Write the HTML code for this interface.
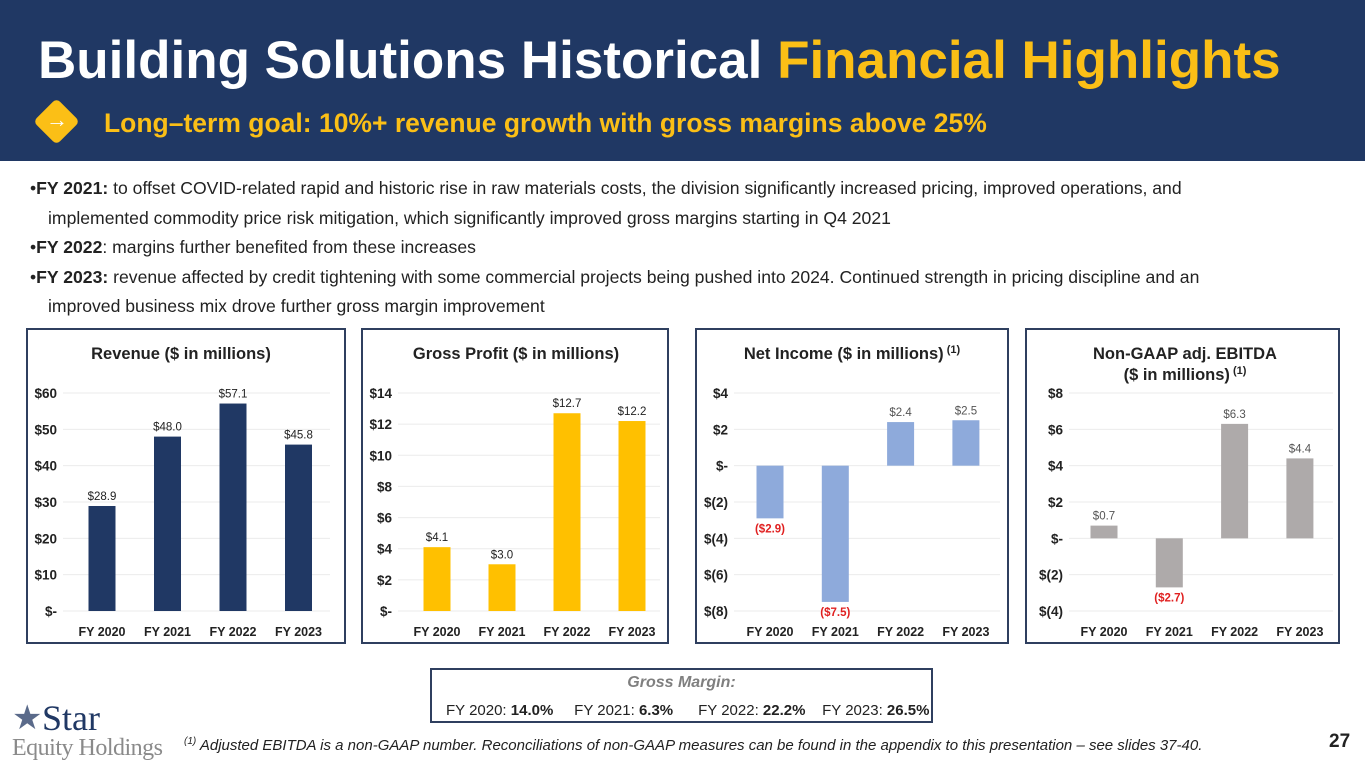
<!DOCTYPE html>
<html><head><meta charset="utf-8"><style>
body{margin:0;width:1365px;height:768px;position:relative;overflow:hidden;background:#fff;font-family:"Liberation Sans",sans-serif}
.hdr{position:absolute;left:0;top:0;width:1365px;height:161px;background:#203864}
.title{position:absolute;left:38px;top:30px;font-size:53px;font-weight:bold;color:#fff;white-space:nowrap}
.title span{color:#fbbf16}
.sub{position:absolute;left:104px;top:108px;font-size:26.5px;font-weight:bold;color:#fbbf16;white-space:nowrap}
.diamond{position:absolute;left:40px;top:105px;width:33px;height:33px;background:#fbbf16;transform:rotate(45deg);border-radius:5px}
.arrow{position:absolute;left:46px;top:107px;width:22px;color:#fff;font-size:22px;text-align:center}
.bul{position:absolute;left:30px;top:174px;font-size:17.6px;color:#222;line-height:29.6px;white-space:nowrap}
.bul b{font-weight:bold}
.panel{position:absolute;top:328px;height:316px;border:2px solid #2f3f5f;box-sizing:border-box}
.gm{position:absolute;left:430px;top:668px;width:503px;height:55px;border:2px solid #2f3f5f;box-sizing:border-box;font-size:15px;color:#222}
.foot{position:absolute;left:184px;top:736px;font-size:15px;font-style:italic;color:#222;white-space:nowrap}
</style></head><body>
<div class="hdr"></div>
<div class="title">Building Solutions Historical <span>Financial Highlights</span></div>
<div class="diamond"></div>
<div class="arrow">→</div>
<div class="sub">Long–term goal: 10%+ revenue growth with gross margins above 25%</div>

<div class="bul">
•<b>FY 2021:</b> to offset COVID-related rapid and historic rise in raw materials costs, the division significantly increased pricing, improved operations, and<br>
<span style="padding-left:18px">implemented commodity price risk mitigation, which significantly improved gross margins starting in Q4 2021</span><br>
•<b>FY 2022</b>: margins further benefited from these increases<br>
•<b>FY 2023:</b> revenue affected by credit tightening with some commercial projects being pushed into 2024. Continued strength in pricing discipline and an<br>
<span style="padding-left:18px">improved business mix drove further gross margin improvement</span>
</div>

<div class="panel" style="left:26px;width:320px"></div>
<div class="panel" style="left:361px;width:308px"></div>
<div class="panel" style="left:695px;width:314px"></div>
<div class="panel" style="left:1025px;width:315px"></div>

<svg id="charts" width="1365" height="768" style="position:absolute;left:0;top:0"></svg>

<div class="gm">
<div style="text-align:center;font-weight:bold;font-style:italic;color:#7f7f7f;font-size:16px;margin-top:4px">Gross Margin:</div>
<div style="position:absolute;left:14px;top:32px;white-space:nowrap">FY 2020: <b>14.0%</b>&nbsp;&nbsp;&nbsp;&nbsp;&nbsp;FY 2021: <b>6.3%</b>&nbsp;&nbsp;&nbsp;&nbsp;&nbsp;&nbsp;FY 2022: <b>22.2%</b>&nbsp;&nbsp;&nbsp;&nbsp;FY 2023: <b>26.5%</b></div>
</div>

<div style="position:absolute;left:12px;top:702px;font-family:'Liberation Serif',serif">
<span style="font-size:34px;color:#5a6a8a;position:absolute;left:0;top:-4px">★</span>
<span style="font-size:36px;color:#203864;position:absolute;left:30px;top:-5px">Star</span>
<span style="font-size:24px;color:#8a8a8a;position:absolute;left:0;top:33px;white-space:nowrap;letter-spacing:-0.5px">Equity Holdings</span>
</div>
<div class="foot"><sup style="font-size:10px">(1)</sup> Adjusted EBITDA is a non-GAAP number. Reconciliations of non-GAAP measures can be found in the appendix to this presentation – see slides 37-40.</div>
<div style="position:absolute;left:1329px;top:731px;font-size:19px;font-weight:bold;color:#222">27</div>

<script>
const categories=["FY 2020","FY 2021","FY 2022","FY 2023"];
const revenueValues=[28.9,48.0,57.1,45.8];
const revenueLabels=["$28.9","$48.0","$57.1","$45.8"];
const revenueTicks=[0,10,20,30,40,50,60];
const revenueTickLabels=["$-","$10","$20","$30","$40","$50","$60"];
const gpValues=[4.1,3.0,12.7,12.2];
const gpLabels=["$4.1","$3.0","$12.7","$12.2"];
const gpTicks=[0,2,4,6,8,10,12,14];
const gpTickLabels=["$-","$2","$4","$6","$8","$10","$12","$14"];
const niValues=[-2.9,-7.5,2.4,2.5];
const niLabels=["($2.9)","($7.5)","$2.4","$2.5"];
const niTicks=[-8,-6,-4,-2,0,2,4];
const niTickLabels=["$(8)","$(6)","$(4)","$(2)","$-","$2","$4"];
const ebValues=[0.7,-2.7,6.3,4.4];
const ebLabels=["$0.7","($2.7)","$6.3","$4.4"];
const ebTicks=[-4,-2,0,2,4,6,8];
const ebTickLabels=["$(4)","$(2)","$-","$2","$4","$6","$8"];

const svg=document.getElementById('charts');
const NS="http://www.w3.org/2000/svg";
function mk(tag,attrs,parent){const e=document.createElementNS(NS,tag);for(const k in attrs)e.setAttribute(k,attrs[k]);(parent||svg).appendChild(e);return e;}
function txt(s,attrs,parent){const e=mk('text',attrs,parent);e.textContent=s;return e;}

function chart(cfg){
  const g=mk('g',{});
  
  
  const min=cfg.ticks[0],max=cfg.ticks[cfg.ticks.length-1];
  const y=v=>611-(v-min)/(max-min)*218;
  const x=i=>cfg.x0+i*cfg.step;
  cfg.ticks.forEach((t,i)=>{
    const l=mk('line',{x1:cfg.axisX+6,x2:cfg.gridEnd,y1:y(t),y2:y(t),stroke:'#ebebeb','stroke-width':1},g);
    
    
    const tl=txt(cfg.tickLabels[i],{x:cfg.axisX,y:y(t)+5,'text-anchor':'end','font-size':13.5,'font-weight':'bold',fill:'#222'},g);
    
    
  });
  cfg.values.forEach((v,i)=>{
    const top=y(Math.max(v,0)),bot=y(Math.min(v,0));
    const r=mk('rect',{x:x(i)-13.5,y:top,width:27,height:bot-top,fill:cfg.color},g);
    
    
    const neg=v<0;
    const ly=neg?bot+14:top-6;
    const lt=txt(cfg.labels[i],{x:x(i),y:ly,'text-anchor':'middle','font-size':11.5,'font-weight':neg?'bold':'normal',fill:neg?'#e02020':(cfg.labelColor||'#333')},g);
    
    
    const ct=txt(categories[i],{x:x(i),y:636,'text-anchor':'middle','font-size':12.5,'font-weight':'bold',fill:'#222'},g);
    
    
  });
  cfg.title.forEach((t,i)=>{
    const tt=txt(t,{x:cfg.titleX,y:359+i*21,'text-anchor':'middle','font-size':16.5,'font-weight':'bold',fill:'#222'},g);
    
    
    if(cfg.sup && i===cfg.title.length-1){
      const s=mk('tspan',{dy:-6,'font-size':11},tt);
      s.textContent=' (1)';
    }
  });
}
chart({name:'revenue-chart',values:revenueValues,labels:revenueLabels,ticks:revenueTicks,tickLabels:revenueTickLabels,x0:102,step:65.5,axisX:57,gridEnd:330,color:'#203864',title:['Revenue  ($ in millions)'],titleX:181,labelColor:'#222'});
chart({name:'gross-profit-chart',values:gpValues,labels:gpLabels,ticks:gpTicks,tickLabels:gpTickLabels,x0:437,step:65,axisX:392,gridEnd:660,color:'#ffc000',title:['Gross Profit  ($ in millions)'],titleX:516,labelColor:'#222'});
chart({name:'net-income-chart',values:niValues,labels:niLabels,ticks:niTicks,tickLabels:niTickLabels,x0:770,step:65.3,axisX:728,gridEnd:1000,color:'#8eaadb',title:['Net Income ($ in millions)'],titleX:852,labelColor:'#555',sup:true});
chart({name:'ebitda-chart',values:ebValues,labels:ebLabels,ticks:ebTicks,tickLabels:ebTickLabels,x0:1104,step:65.3,axisX:1063,gridEnd:1333,color:'#aeaaaa',title:['Non-GAAP adj. EBITDA','($ in millions)'],titleX:1185,labelColor:'#555',sup:true});
</script>
</body></html>
